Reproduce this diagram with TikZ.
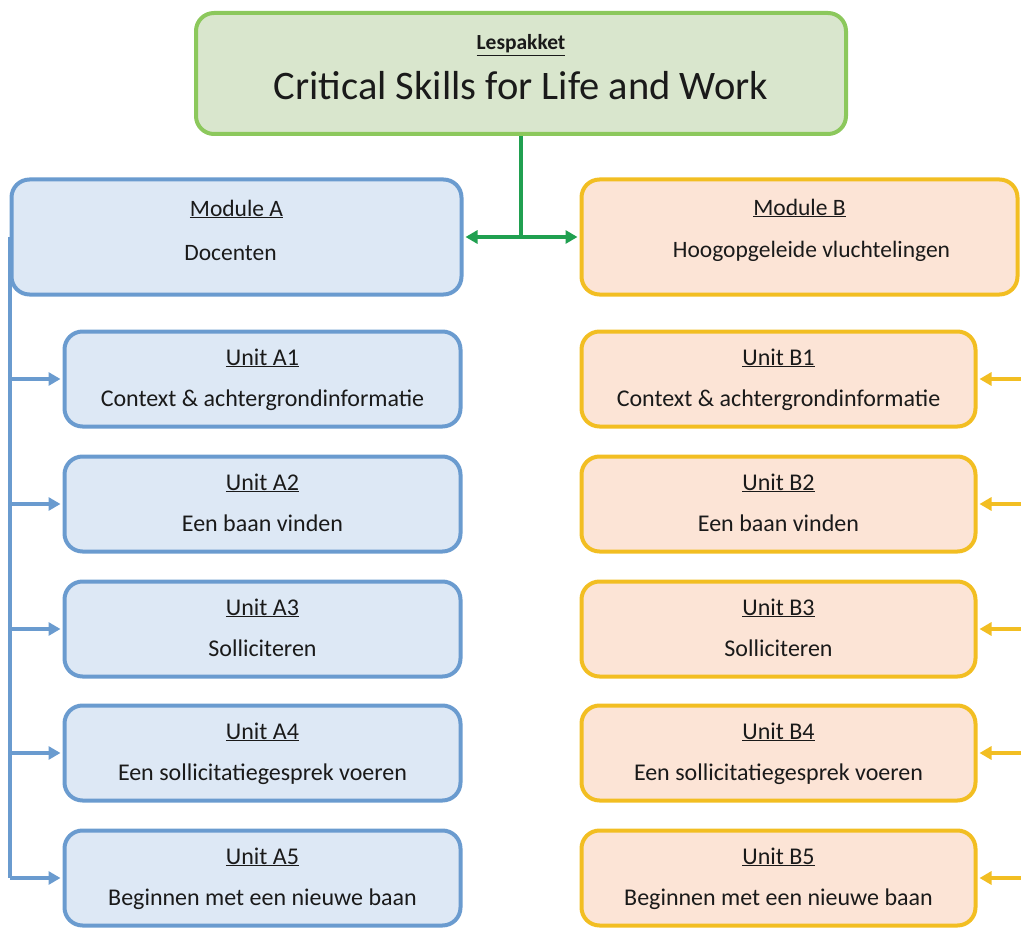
\documentclass[tikz,border=0pt]{standalone}
\usepackage{fontspec}
\setmainfont{Carlito}
\usetikzlibrary{arrows.meta}
\definecolor{gborder}{HTML}{8CC85C}
\definecolor{gfill}{HTML}{D9E6CD}
\definecolor{gline}{HTML}{20A050}
\definecolor{bborder}{HTML}{6A9BCF}
\definecolor{bfill}{HTML}{DDE8F5}
\definecolor{oborder}{HTML}{F2BE22}
\definecolor{ofill}{HTML}{FCE4D6}
\definecolor{txt}{HTML}{1A1A1A}
\tikzset{
  box/.style={draw, line width=4pt, rounded corners=18pt, inner sep=0pt},
  abox/.style={box, draw=bborder, fill=bfill},
  obox/.style={box, draw=oborder, fill=ofill},
  unitA/.style={abox, minimum width=396pt, minimum height=95pt},
  unitB/.style={obox, minimum width=394pt, minimum height=95pt},
  lbl/.style={text=txt, font=\fontsize{24}{28}\selectfont, inner sep=0pt, anchor=base},
  mlbl/.style={lbl, font=\fontsize{23.5}{28}\selectfont},
  aarrow/.style={draw=bborder, line width=3.5pt, -{Triangle[length=12pt,width=13pt]}},
  barrow/.style={draw=oborder, line width=3.5pt, -{Triangle[length=12pt,width=13pt]}},
}
\begin{document}
\begin{tikzpicture}[x=1pt,y=-1pt]
\useasboundingbox (0,0) rectangle (1021,931);
% top
\node[box, draw=gborder, fill=gfill, minimum width=650pt, minimum height=121pt] (top) at (521,73.5) {};
\node[lbl, font=\fontsize{21.5}{24}\selectfont\bfseries] (topt) at ([yshift=23.5pt]top.center) {\underline{Lespakket}};
\node[lbl, font=\fontsize{40.5}{46}\selectfont] (tops) at ([yshift=-26.5pt]top.center) {Critical Skills for Life and Work};
% modules
\node[abox, minimum width=450pt, minimum height=115pt] (MA) at (236.5,237) {};
\node[obox, minimum width=436pt, minimum height=115pt] (MB) at (799.5,237) {};
\node[mlbl] (MAt) at ([yshift=21pt]MA.center) {\underline{Module A}};
\node[mlbl] (MAs) at ([xshift=-6pt,yshift=-23pt]MA.center) {Docenten};
\node[mlbl] (MBt) at ([yshift=22pt]MB.center) {\underline{Module B}};
\node[mlbl] (MBs) at ([xshift=12pt,yshift=-21pt]MB.center) {Hoogopgeleide vluchtelingen};
% green connector
\draw[gline, line width=4pt] (top.south) -- (top.south |- MA.east) coordinate (junc);
\draw[gline, line width=3.5pt, {Triangle[length=12pt,width=13pt]}-{Triangle[length=12pt,width=13pt]}] ([xshift=2pt]MA.east) -- ([xshift=-2pt]MB.west);
% units
\foreach \i/\y/\ta/\sa/\tb/\sb in {
  1/379/Unit A1/Context \& achtergrondinformatie/Unit B1/Context \& achtergrondinformatie,
  2/504/Unit A2/Een baan vinden/Unit B2/Een baan vinden,
  3/629/Unit A3/Solliciteren/Unit B3/Solliciteren,
  4/753/Unit A4/Een sollicitatiegesprek voeren/Unit B4/Een sollicitatiegesprek voeren,
  5/878/Unit A5/Beginnen met een nieuwe baan/Unit B5/Beginnen met een nieuwe baan}{
  \node[unitA] (A\i) at (262.5,\y) {};
  \node[lbl] (A\i t) at ([yshift=14pt]A\i.center) {\underline{\ta}};
  \node[lbl] (A\i s) at ([yshift=-27pt]A\i.center) {\sa};
  \node[unitB] (B\i) at (778.5,\y) {};
  \node[lbl] (B\i t) at ([yshift=14pt]B\i.center) {\underline{\tb}};
  \node[lbl] (B\i s) at ([yshift=-27pt]B\i.center) {\sb};
  \coordinate (R\i) at (1021,\y);
  \draw[barrow] (R\i) -- ([xshift=2pt]B\i.east);
}
% blue spine
\coordinate (spine) at (MA.west);
\draw[bborder, line width=4pt] (spine) -- (spine |- A5.west);
\foreach \i in {1,...,5}{
  \draw[aarrow] (spine |- A\i.west) -- ([xshift=-2pt]A\i.west);
}
\end{tikzpicture}
\end{document}
